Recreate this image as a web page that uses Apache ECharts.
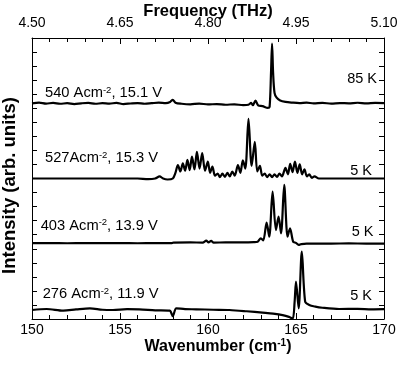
<!DOCTYPE html>
<html>
<head>
<meta charset="utf-8">
<script src="https://cdn.jsdelivr.net/npm/echarts@6/dist/echarts.min.js"></script>
<style>
  html, body { margin: 0; padding: 0; background: #fff; }
  #main { width: 401px; height: 372px; }
</style>
</head>
<body>
<div id="main"></div>
<script>
// spectra as [wavenumber, offset intensity]
var trace540 = [[150,15.35],[150.4,15.4],[150.8,15.33],[151.2,15.38],[151.6,15.32],[152,15.36],[152.4,15.3],[152.8,15.35],[153.2,15.38],[153.6,15.32],[154,15.36],[154.4,15.33],[154.8,15.38],[155.2,15.3],[155.6,15.34],[156,15.37],[156.4,15.32],[156.8,15.36],[157.2,15.4],[157.6,15.37],[157.85,15.45],[158.0,15.6],[158.15,15.4],[158.5,15.32],[159,15.28],[159.5,15.33],[160,15.27],[160.5,15.3],[161,15.25],[161.5,15.28],[162,15.22],[162.3,15.25],[162.45,15.38],[162.55,15.22],[162.7,15.55],[162.85,15.2],[163.1,15.15],[163.4,15.02],[163.5,15.1],[163.58,17.5],[163.64,19.6],[163.7,17.5],[163.78,16.1],[163.9,15.75],[164.1,15.55],[164.4,15.45],[164.8,15.4],[165.2,15.37],[165.6,15.4],[166,15.35],[166.5,15.38],[167,15.33],[167.5,15.37],[168,15.35],[168.5,15.39],[169,15.34],[169.5,15.38],[170,15.36]];

var trace527 = [[150,10.0],[151,10.0],[152,10.0],[153,10.0],[154,10.0],[155,10.0],[156,10.0],[156.6,9.95],[157,10.0],[157.25,10.15],[157.45,10.0],[157.7,9.93],[158.0,10.0],[158.15,10.4],[158.29,10.95],[158.43,10.5],[158.57,11.08],[158.7,10.55],[158.83,11.32],[158.96,10.6],[159.09,11.55],[159.23,10.65],[159.37,11.9],[159.52,10.7],[159.67,11.8],[159.83,10.55],[159.99,11.2],[160.12,10.4],[160.25,10.84],[160.4,10.2],[160.55,10.35],[160.68,10.1],[160.82,10.35],[160.96,10.12],[161.1,10.4],[161.24,10.15],[161.38,10.5],[161.52,10.2],[161.7,10.95],[161.84,10.4],[161.98,11.3],[162.12,10.7],[162.3,14.25],[162.48,10.9],[162.66,12.6],[162.8,10.5],[162.95,10.9],[163.08,10.2],[163.22,10.35],[163.36,10.1],[163.5,10.3],[163.64,10.1],[163.78,10.3],[163.92,10.12],[164.06,10.35],[164.2,10.15],[164.4,10.75],[164.54,10.3],[164.67,11.05],[164.8,10.45],[164.94,11.2],[165.08,10.4],[165.21,11.0],[165.35,10.3],[165.48,10.65],[165.62,10.15],[165.75,10.3],[165.9,10.05],[166.05,10.15],[166.3,10.0],[167,10.0],[168,10.0],[169,10.0],[170,10.0]];

var trace403 = [[150,5.4],[151,5.41],[152,5.39],[153,5.4],[154,5.41],[155,5.4],[156,5.39],[157,5.4],[157.95,5.4],[158.05,5.44],[159,5.45],[159.7,5.44],[159.9,5.58],[160.03,5.45],[160.18,5.56],[160.32,5.44],[161,5.45],[162,5.45],[162.6,5.47],[162.82,5.5],[163.0,5.74],[163.14,5.6],[163.33,6.86],[163.48,5.86],[163.67,9.06],[163.86,6.33],[164.01,7.28],[164.15,6.1],[164.33,9.54],[164.52,5.86],[164.66,6.46],[164.84,5.5],[165.0,5.42],[165.15,5.27],[165.3,5.33],[165.6,5.37],[166,5.37],[167,5.37],[168,5.38],[169,5.37],[170,5.37]];

var trace276 = [[150,0.64],[150.83,0.71],[151.78,0.59],[152.5,0.68],[153.29,0.76],[154,0.66],[154.6,0.64],[155.4,0.7],[156.1,0.69],[157,0.62],[157.82,0.59],[158.0,0.21],[158.2,0.76],[158.7,0.7],[159.33,0.69],[160.3,0.66],[161.22,0.64],[162.2,0.55],[163.1,0.45],[163.7,0.38],[164.24,0.28],[164.6,0.15],[164.81,0.02],[164.92,1.2],[165.0,2.66],[165.15,0.76],[165.33,4.79],[165.52,1.23],[165.75,1.0],[166.1,0.88],[166.5,0.8],[167.45,0.71],[168.5,0.72],[169.3,0.69],[170,0.7]];

var traces = [trace540, trace527, trace403, trace276];
var currentLabels = ['540 Acm{s|-2}, 15.1 V', '527Acm{s|-2}, 15.3 V', '403 Acm{s|-2}, 13.9 V', '276 Acm{s|-2}, 11.9 V'];
var tempLabels = ['85 K', '5 K', '5 K', '5 K'];
var wnTicks = [150, 155, 160, 165, 170];
var freqTicks = [4.50, 4.65, 4.80, 4.95, 5.10];

var FONT = 'Liberation Sans, Arial, Helvetica, sans-serif';
var chart = echarts.init(document.getElementById('main'));

var labelTops = [85, 150, 217.5, 286];
var labelLefts = [45, 45, 40.7, 42.7];
var tempTops = [71, 163, 224.5, 288.5];
var tempRights = [24, 29, 27.5, 29];

var graphics = [];
currentLabels.forEach(function (t, i) {
  graphics.push({
    type: 'text', left: labelLefts[i], top: labelTops[i], z: 100,
    style: {
      text: '{a|' + t.replace('{s|-2}', '}{s|-2}{a|') + '}',
      rich: {
        a: { fontSize: 14.7, lineHeight: 16, fontFamily: FONT, fill: '#000' },
        s: { fontSize: 9.5, lineHeight: 16, verticalAlign: 'top', fontFamily: FONT, fill: '#000' }
      }
    }
  });
});
tempLabels.forEach(function (t, i) {
  graphics.push({
    type: 'text', right: tempRights[i], top: tempTops[i], z: 100,
    style: { text: t, fontSize: 14.5, fontFamily: FONT, fill: '#000' }
  });
});

chart.setOption({
  animation: false,
  backgroundColor: '#fff',
  grid: { left: 32, right: 17, top: 38, bottom: 53, outerBoundsMode: 'none', containLabel: false },
  graphic: graphics,
  xAxis: [{
    type: 'value', position: 'bottom', min: wnTicks[0], max: wnTicks[wnTicks.length - 1], interval: 5,
    name: '{a|Wavenumber (cm}{s|-1}{a|)}', nameLocation: 'middle', nameGap: 19, nameMoveOverlap: false,
    nameTextStyle: {
      padding: [0, 0, 0, 20],
      rich: {
        a: { fontSize: 16, fontWeight: 'bold', lineHeight: 18, fontFamily: FONT, color: '#000' },
        s: { fontSize: 10, fontWeight: 'bold', lineHeight: 18, verticalAlign: 'top', fontFamily: FONT, color: '#000' }
      }
    },
    axisLine: { onZero: false, lineStyle: { color: '#000', width: 1 } },
    axisTick: { inside: true, length: 6, lineStyle: { color: '#000' } },
    minorTick: { show: true, splitNumber: 5, length: 4, lineStyle: { color: '#000' } },
    splitLine: { show: false },
    axisLabel: { margin: 4, fontSize: 14, color: '#000', fontFamily: FONT }
  }, {
    type: 'value', position: 'top', min: freqTicks[0], max: freqTicks[freqTicks.length - 1], interval: 0.15,
    name: 'Frequency (THz)', nameLocation: 'middle', nameGap: 18, nameMoveOverlap: false,
    nameTextStyle: { fontSize: 16.5, fontWeight: 'bold', color: '#000', fontFamily: FONT },
    axisLine: { onZero: false, lineStyle: { color: '#000', width: 1 } },
    axisTick: { inside: true, length: 6, lineStyle: { color: '#000' } },
    minorTick: { show: true, splitNumber: 5, length: 4, lineStyle: { color: '#000' } },
    splitLine: { show: false },
    axisLabel: { margin: 8, fontSize: 14, color: '#000', fontFamily: FONT,
      formatter: function (v) { return v.toFixed(2); } }
  }],
  yAxis: [{
    type: 'value', position: 'left', min: 0, max: 20, interval: 1,
    name: 'Intensity (arb. units)', nameLocation: 'middle', nameGap: 13, nameMoveOverlap: false,
    nameTextStyle: { fontSize: 18.5, fontWeight: 'bold', color: '#000', fontFamily: FONT, padding: [0, 14, 0, 0] },
    axisLine: { onZero: false, lineStyle: { color: '#000', width: 1 } },
    axisTick: { inside: true, length: 5, lineStyle: { color: '#000' } },
    splitLine: { show: false },
    axisLabel: { show: false }
  }, {
    type: 'value', position: 'right', min: 0, max: 20, interval: 1,
    axisLine: { onZero: false, lineStyle: { color: '#000', width: 1 } },
    axisTick: { inside: true, length: 5, lineStyle: { color: '#000' } },
    splitLine: { show: false },
    axisLabel: { show: false }
  }],
  series: traces.map(function (d) {
    return {
      type: 'line', xAxisIndex: 0, yAxisIndex: 0, data: d,
      showSymbol: false, smooth: 0.3,
      lineStyle: { color: '#000', width: 2.2 },
      clip: true
    };
  })
});
</script>
</body>
</html>
